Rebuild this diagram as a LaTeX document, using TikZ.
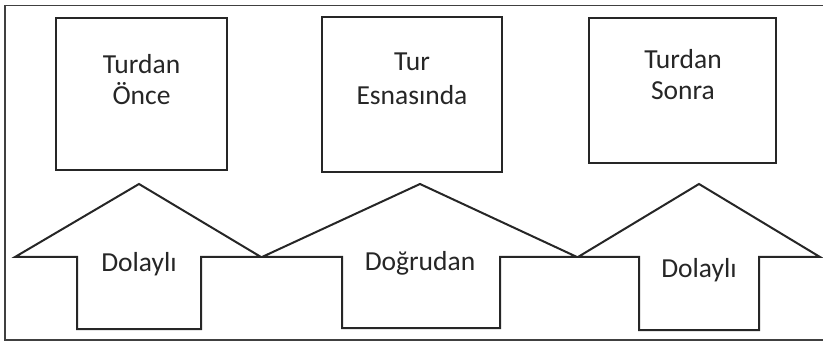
\documentclass[tikz,border=0pt]{standalone}
\usepackage{fontspec}
\setmainfont{Carlito}

\tikzset{
  box/.style={draw=black!85,line width=2pt,inner sep=0pt},
  word/.style={font=\fontsize{27.5}{31}\selectfont,text=black!85,align=center,inner sep=0pt,anchor=base},
  uparrow/.style={draw=black!85,line width=2pt,line join=miter}
}

\begin{document}
\begin{tikzpicture}[x=1pt,y=-1pt]
\useasboundingbox (0,0) rectangle (823,342);
% frame
\draw[black!75,line width=1.3pt] (823,5.5) -- (5,5.5) -- (5,340) -- (823,340);

% boxes
\node[box,minimum width=171pt,minimum height=152pt] (once) at (141.5,94) {};
\node[box,minimum width=180pt,minimum height=155pt] (esna) at (412,94.5) {};
\node[box,minimum width=187pt,minimum height=145pt] (sonra) at (682.5,90.5) {};
\node[word] (onceT) at (141.5,105) {Turdan\\Önce};
\node[word,font=\fontsize{27.5}{34}\selectfont] (esnaT) at (412,105) {Tur\\Esnasında};
\node[word] (sonraT) at (683,100) {Turdan\\Sonra};

% arrows
\draw[uparrow] (15,257) -- (139,184) -- (261,257) -- (201,257) -- (201,329)
  -- (77,329) -- (77,257) -- cycle;
\draw[uparrow] (262,257) -- (420,184) -- (577,257) -- (500,257) -- (500,328)
  -- (342,328) -- (342,257) -- cycle;
\draw[uparrow] (578,257) -- (699,184) -- (820,257) -- (759,257) -- (759,330)
  -- (639,330) -- (639,257) -- cycle;
\node[word] (dolayli1) at (139,272) {Dolaylı};
\node[word] (dogrudan) at (420,270) {Doğrudan};
\node[word] (dolayli2) at (699,277) {Dolaylı};
\end{tikzpicture}
\end{document}
